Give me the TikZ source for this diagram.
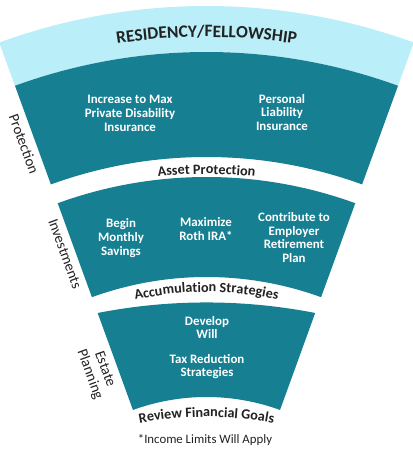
\documentclass[tikz,border=0pt]{standalone}
\usepackage{fontspec}
\setmainfont{Carlito}
\usetikzlibrary{decorations.text}
\definecolor{bandteal}{HTML}{177F92}
\definecolor{bandsky}{HTML}{BAEEF8}
\definecolor{inkgray}{HTML}{222222}
\newcommand{\titlefont}{\bfseries\fontsize{17.4}{18}\selectfont\color{inkgray}}
\newcommand{\arcfont}{\bfseries\fontsize{14.2}{15}\selectfont\color{inkgray}}
\begin{document}
\begin{tikzpicture}[x=1pt,y=1pt,
  band/.style={fill=bandteal},
  item/.style={text=white,font=\bfseries\fontsize{12.9}{13.7}\selectfont,align=center},
  side/.style={text=inkgray,font=\fontsize{14.8}{16}\selectfont,align=center,rotate=-70},
  arclabel/.style={decorate,decoration={text along path,text align=center,text={#1}}}]
\useasboundingbox (0,0) rectangle (413,451);
\coordinate (C) at (206.5,-161);

% light top band
\fill[bandsky] ([shift={(C)}]110:606pt) arc[start angle=110,end angle=70,radius=606pt]
  -- ([shift={(C)}]70:560pt) arc[start angle=70,end angle=110,radius=560pt] -- cycle;
\path[arclabel={|\titlefont|RESIDENCY/FELLOWSHIP}] ([shift={(C)}]110:575pt) arc[start angle=110,end angle=70,radius=575pt];

% protection band
\path[band] ([shift={(C)}]110:560pt) arc[start angle=110,end angle=70,radius=560pt]
  -- ([shift={(C)}]70:455pt) arc[start angle=70,end angle=110,radius=455pt] -- cycle;
\node (P1) at (130,337.5) [item] {Increase to Max\\Private Disability\\Insurance};
\node (P2) at (282,338.5) [item] {Personal\\Liability\\Insurance};
\node (prot) at (24,307) [side] {Protection};
\path[arclabel={|\arcfont|Asset Protection}] ([shift={(C)}]110:438pt) arc[start angle=110,end angle=70,radius=438pt];

% investments band
\path[band] ([shift={(C)}]110:435pt) arc[start angle=110,end angle=70,radius=435pt]
  -- ([shift={(C)}]70:335pt) arc[start angle=70,end angle=110,radius=335pt] -- cycle;
\node (I1) at (121,213) [item] {Begin\\Monthly\\Savings};
\node (I2) at (206,222) [item] {Maximize\\Roth IRA*};
\node (I3) at (294,213.5) [item] {Contribute to\\Employer\\Retirement\\Plan};
\node (inv) at (65,197) [side] {Investments};
\path[arclabel={|\arcfont|Accumulation Strategies}] ([shift={(C)}]110:320pt) arc[start angle=110,end angle=70,radius=320pt];

% estate band
\path[band] ([shift={(C)}]110:318.2pt) arc[start angle=101.06,end angle=78.94,radius=567pt]
  -- ([shift={(C)}]70:215pt) arc[start angle=70,end angle=110,radius=215pt] -- cycle;
\node (E1) at (207,123.5) [item] {Develop\\Will};
\node (E2) at (207,84.5) [item] {Tax Reduction\\Strategies};
\node (est) at (97,79) [side] {Estate\\Planning};
\coordinate (G) at (206.5,-316);
\path[arclabel={|\arcfont|Review Financial Goals}] ([shift={(G)}]110:350pt) arc[start angle=110,end angle=70,radius=350pt];

\node (note) at (205,11) [text=inkgray,font=\fontsize{12.8}{13}\selectfont] {*Income Limits Will Apply};
\end{tikzpicture}
\end{document}
